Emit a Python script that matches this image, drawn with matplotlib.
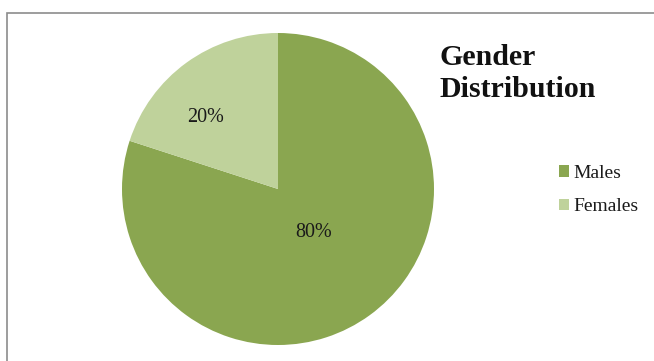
import numpy as np
import matplotlib
matplotlib.use("Agg")
import matplotlib.pyplot as plt
from matplotlib.patches import Rectangle

# chart data
labels = ["Males", "Females"]
shares = [80, 20]
colors = ["#8aa650", "#bfd29b"]
label_radius = [0.36, 0.655]   # how far out each percentage sits (fraction of radius)
label_turn = [4, 9.5]          # small angular nudge of each percentage label (deg)

W, H = 654, 361
fig = plt.figure(figsize=(W / 100, H / 100), dpi=100)
fig.patch.set_facecolor("white")

# grey chart-area border (only top and left edges visible in the crop)
fig.patches.append(Rectangle((7 / W, -0.1), 1.2, 1.1 - 13 / H,
                             transform=fig.transFigure, fill=False,
                             edgecolor="#8c8c8c", linewidth=1.2))

# pie axes: centre (278, 189) px, radius 156 px
cx, cy, r = 278, 189, 156
ax = fig.add_axes([(cx - r) / W, (H - cy - r) / H, 2 * r / W, 2 * r / H])
wedges, _ = ax.pie(shares, colors=colors, startangle=90, counterclock=False,
                   wedgeprops=dict(linewidth=0))
ax.set_xlim(-1, 1)
ax.set_ylim(-1, 1)
ax.set_aspect("equal")

for w, v, rf, turn in zip(wedges, shares, label_radius, label_turn):
    mid = np.deg2rad((w.theta1 + w.theta2) / 2 + turn)
    ax.text(rf * np.cos(mid), rf * np.sin(mid), f"{v}%",
            ha="center", va="center", fontsize=14.5, family="Liberation Serif",
            color="#1a1a1a")

fig.text(439 / W, 1 - 44 / H, "Gender\nDistribution", ha="left", va="top",
         fontsize=21.5, fontweight="bold", family="Liberation Serif",
         linespacing=1.25, color="#111111")

leg = fig.legend(wedges, labels, loc="center left",
                 bbox_to_anchor=(541 / W, 1 - 190 / H), frameon=False,
                 prop=dict(family="Liberation Serif", size=14),
                 handlelength=0.55, handleheight=0.55, handletextpad=0.2,
                 labelspacing=0.85)
for t in leg.get_texts():
    t.set_color("#1a1a1a")

fig.savefig("out.png", dpi=100, facecolor="white")
